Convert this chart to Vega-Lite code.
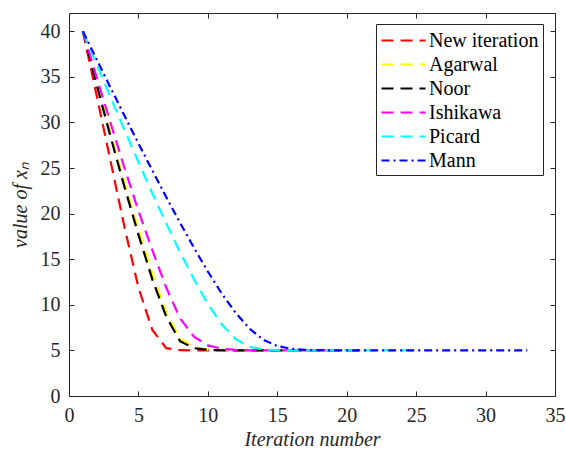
{
  "$schema": "https://vega.github.io/schema/vega-lite/v6.json",
  "width": 486,
  "height": 383,
  "autosize": {"type": "none"},
  "padding": {"left": 69, "top": 13, "right": 11, "bottom": 55},
  "background": "white",
  "data": {"values": [
    {"n":1,"v":40,"m":"New iteration"},{"n":2,"v":32.9,"m":"New iteration"},{"n":3,"v":25.7,"m":"New iteration"},{"n":4,"v":18.5,"m":"New iteration"},{"n":5,"v":11.9,"m":"New iteration"},{"n":6,"v":7.25,"m":"New iteration"},{"n":7,"v":5.25,"m":"New iteration"},{"n":8,"v":5.02,"m":"New iteration"},{"n":9,"v":5,"m":"New iteration"},{"n":10,"v":5,"m":"New iteration"},{"n":11,"v":5,"m":"New iteration"},{"n":12,"v":5,"m":"New iteration"},{"n":13,"v":5,"m":"New iteration"},{"n":14,"v":5,"m":"New iteration"},
    {"n":1,"v":40,"m":"Agarwal"},{"n":2,"v":34.4,"m":"Agarwal"},{"n":3,"v":28.8,"m":"Agarwal"},{"n":4,"v":23.4,"m":"Agarwal"},{"n":5,"v":18.3,"m":"Agarwal"},{"n":6,"v":13.4,"m":"Agarwal"},{"n":7,"v":9.2,"m":"Agarwal"},{"n":8,"v":6.3,"m":"Agarwal"},{"n":9,"v":5.35,"m":"Agarwal"},{"n":10,"v":5.08,"m":"Agarwal"},{"n":11,"v":5.02,"m":"Agarwal"},{"n":12,"v":5,"m":"Agarwal"},{"n":13,"v":5,"m":"Agarwal"},{"n":14,"v":5,"m":"Agarwal"},{"n":15,"v":5,"m":"Agarwal"},{"n":16,"v":5,"m":"Agarwal"},{"n":17,"v":5,"m":"Agarwal"},{"n":18,"v":5,"m":"Agarwal"},
    {"n":1,"v":40,"m":"Noor"},{"n":2,"v":34.1,"m":"Noor"},{"n":3,"v":28.4,"m":"Noor"},{"n":4,"v":22.9,"m":"Noor"},{"n":5,"v":17.7,"m":"Noor"},{"n":6,"v":12.8,"m":"Noor"},{"n":7,"v":8.7,"m":"Noor"},{"n":8,"v":6.0,"m":"Noor"},{"n":9,"v":5.25,"m":"Noor"},{"n":10,"v":5.06,"m":"Noor"},{"n":11,"v":5.015,"m":"Noor"},{"n":12,"v":5,"m":"Noor"},{"n":13,"v":5,"m":"Noor"},{"n":14,"v":5,"m":"Noor"},{"n":15,"v":5,"m":"Noor"},{"n":16,"v":5,"m":"Noor"},{"n":17,"v":5,"m":"Noor"},{"n":18,"v":5,"m":"Noor"},{"n":19,"v":5,"m":"Noor"},{"n":20,"v":5,"m":"Noor"},{"n":21,"v":5,"m":"Noor"},
    {"n":1,"v":40,"m":"Ishikawa"},{"n":2,"v":34.9,"m":"Ishikawa"},{"n":3,"v":29.9,"m":"Ishikawa"},{"n":4,"v":25.0,"m":"Ishikawa"},{"n":5,"v":20.3,"m":"Ishikawa"},{"n":6,"v":16.0,"m":"Ishikawa"},{"n":7,"v":11.9,"m":"Ishikawa"},{"n":8,"v":8.5,"m":"Ishikawa"},{"n":9,"v":6.5,"m":"Ishikawa"},{"n":10,"v":5.55,"m":"Ishikawa"},{"n":11,"v":5.18,"m":"Ishikawa"},{"n":12,"v":5.05,"m":"Ishikawa"},{"n":13,"v":5.01,"m":"Ishikawa"},{"n":14,"v":5,"m":"Ishikawa"},{"n":15,"v":5,"m":"Ishikawa"},{"n":16,"v":5,"m":"Ishikawa"},{"n":17,"v":5,"m":"Ishikawa"},{"n":18,"v":5,"m":"Ishikawa"},{"n":19,"v":5,"m":"Ishikawa"},
    {"n":1,"v":40,"m":"Picard"},{"n":2,"v":36.35,"m":"Picard"},{"n":3,"v":32.72,"m":"Picard"},{"n":4,"v":29.16,"m":"Picard"},{"n":5,"v":25.66,"m":"Picard"},{"n":6,"v":22.24,"m":"Picard"},{"n":7,"v":18.93,"m":"Picard"},{"n":8,"v":15.76,"m":"Picard"},{"n":9,"v":12.8,"m":"Picard"},{"n":10,"v":10.1,"m":"Picard"},{"n":11,"v":7.85,"m":"Picard"},{"n":12,"v":6.25,"m":"Picard"},{"n":13,"v":5.4,"m":"Picard"},{"n":14,"v":5.1,"m":"Picard"},{"n":15,"v":5.02,"m":"Picard"},{"n":16,"v":5.005,"m":"Picard"},{"n":17,"v":5,"m":"Picard"},{"n":18,"v":5,"m":"Picard"},{"n":19,"v":5,"m":"Picard"},{"n":20,"v":5,"m":"Picard"},{"n":21,"v":5,"m":"Picard"},{"n":22,"v":5,"m":"Picard"},{"n":23,"v":5,"m":"Picard"},{"n":24,"v":5,"m":"Picard"},{"n":25,"v":5,"m":"Picard"},
    {"n":1,"v":40,"m":"Mann"},{"n":2,"v":36.88,"m":"Mann"},{"n":3,"v":33.79,"m":"Mann"},{"n":4,"v":30.73,"m":"Mann"},{"n":5,"v":27.71,"m":"Mann"},{"n":6,"v":24.74,"m":"Mann"},{"n":7,"v":21.82,"m":"Mann"},{"n":8,"v":18.98,"m":"Mann"},{"n":9,"v":16.25,"m":"Mann"},{"n":10,"v":13.65,"m":"Mann"},{"n":11,"v":11.24,"m":"Mann"},{"n":12,"v":9.12,"m":"Mann"},{"n":13,"v":7.39,"m":"Mann"},{"n":14,"v":6.17,"m":"Mann"},{"n":15,"v":5.48,"m":"Mann"},{"n":16,"v":5.17,"m":"Mann"},{"n":17,"v":5.06,"m":"Mann"},{"n":18,"v":5.02,"m":"Mann"},{"n":19,"v":5.01,"m":"Mann"},{"n":20,"v":5,"m":"Mann"},{"n":21,"v":5,"m":"Mann"},{"n":22,"v":5,"m":"Mann"},{"n":23,"v":5,"m":"Mann"},{"n":24,"v":5,"m":"Mann"},{"n":25,"v":5,"m":"Mann"},{"n":26,"v":5,"m":"Mann"},{"n":27,"v":5,"m":"Mann"},{"n":28,"v":5,"m":"Mann"},{"n":29,"v":5,"m":"Mann"},{"n":30,"v":5,"m":"Mann"},{"n":31,"v":5,"m":"Mann"},{"n":32,"v":5,"m":"Mann"},{"n":33,"v":5,"m":"Mann"}
  ]},
  "layer": [
    {
      "mark": {"type": "line", "strokeWidth": 2.2, "clip": true},
      "encoding": {
        "x": {"field": "n", "type": "quantitative",
          "scale": {"domain": [0, 35], "nice": false, "zero": false},
          "axis": {"orient": "bottom", "values": [0,5,10,15,20,25,30,35], "title": "Iteration number", "labelPadding": 14, "titlePadding": 4, "labelFlush": false, "labelOverlap": false}},
        "y": {"field": "v", "type": "quantitative",
          "scale": {"domain": [0, 42], "nice": false, "zero": false},
          "axis": {"orient": "left", "values": [0,5,10,15,20,25,30,35,40], "title": "value of xₙ", "labelPadding": 14, "titlePadding": 10, "labelFlush": false, "labelOverlap": false}},
        "color": {"field": "m", "type": "nominal", "sort": null,
          "scale": {"domain": ["New iteration","Agarwal","Noor","Ishikawa","Picard","Mann"], "range": ["#ff0000","#ffff00","#000000","#ff00ff","#00ffff","#0000ff"]},
          "legend": {"title": null, "orient": "none", "legendX": 307, "legendY": 11}},
        "strokeDash": {"field": "m", "type": "nominal", "sort": null,
          "scale": {"domain": ["New iteration","Agarwal","Noor","Ishikawa","Picard","Mann"], "range": [[12,7],[12,7],[12,7],[12,7],[12,7],[8,4,2,4]]},
          "legend": {"title": null, "orient": "none", "legendX": 307, "legendY": 11}},
        "order": {"field": "n", "type": "quantitative"}
      }
    },
    {
      "mark": {"type": "line", "opacity": 0},
      "encoding": {
        "x": {"field": "n", "type": "quantitative",
          "axis": {"orient": "top", "values": [0,5,10,15,20,25,30,35], "labels": false, "title": null}},
        "y": {"field": "v", "type": "quantitative",
          "axis": {"orient": "right", "values": [0,5,10,15,20,25,30,35,40], "labels": false, "title": null}},
        "detail": {"field": "m"}
      }
    }
  ],
  "resolve": {"axis": {"x": "independent", "y": "independent"}},
  "config": {
    "view": {"stroke": null},
    "font": "'Liberation Serif', 'Times New Roman', Times, serif",
    "axis": {"grid": false, "domainColor": "#262626", "tickColor": "#262626", "labelColor": "#262626", "titleColor": "#262626",
      "labelFont": "'Liberation Serif', 'Times New Roman', Times, serif", "labelFontSize": 20, "titleFont": "'Liberation Serif', 'Times New Roman', Times, serif", "titleFontSize": 20,
      "titleFontWeight": "normal", "titleFontStyle": "italic", "tickSize": -5, "domainWidth": 1, "tickWidth": 1},
    "legend": {"strokeColor": "#262626", "fillColor": "white", "padding": 4, "labelFont": "'Liberation Serif', 'Times New Roman', Times, serif", "labelFontSize": 20,
      "labelColor": "#000000", "symbolType": "M-1,0H3", "symbolSize": 484, "symbolStrokeWidth": 2.2, "labelOffset": 24, "rowPadding": 1, "cornerRadius": 0}
  }
}
